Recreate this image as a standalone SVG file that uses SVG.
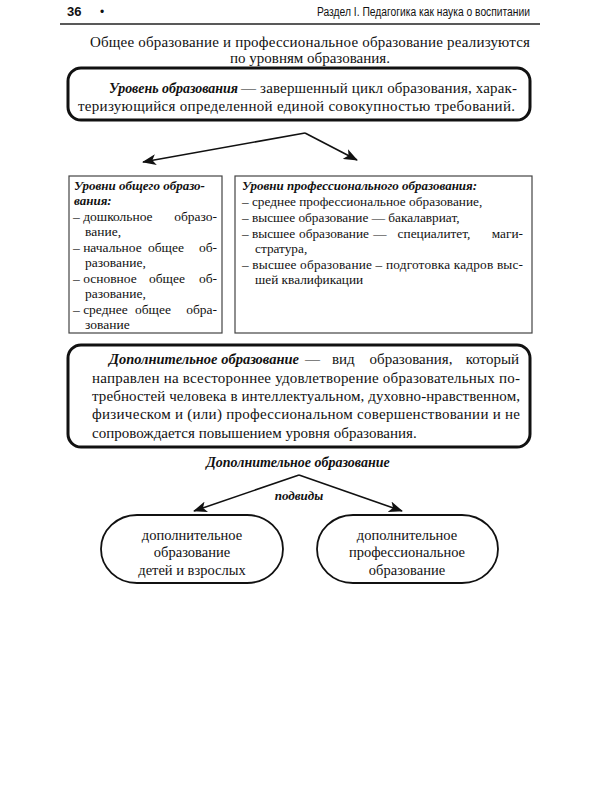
<svg xmlns="http://www.w3.org/2000/svg" width="600" height="800" viewBox="0 0 600 800">
<style>
.s{font-family:"Liberation Serif","DejaVu Serif","Times New Roman",serif;fill:#111}
.b{font-weight:bold;font-style:italic}
.h{font-family:"Liberation Sans Narrow","Liberation Sans",Arial,sans-serif;fill:#111}
.e{text-anchor:end}
.m{text-anchor:middle}
.thick{fill:#fff;stroke:#111;stroke-width:3}
.thin{fill:#fff;stroke:#444;stroke-width:1.2}
.pill{fill:#fff;stroke:#111;stroke-width:1.8}
.c{stroke:#111;stroke-width:1.6;fill:none}
</style>
<defs>
<marker id="ah" viewBox="0 0 14 11" refX="13" refY="5.5" markerWidth="14" markerHeight="11" markerUnits="userSpaceOnUse" orient="auto">
<path d="M0,0 L14,5.5 L0,11 L3.5,5.5 Z" fill="#111"/>
</marker>
</defs>
<rect width="600" height="800" fill="#fff"/>
<g id="header">
<text x="67" y="16" font-size="13" font-weight="bold" font-family="Liberation Sans, Arial, sans-serif" fill="#111">36</text>
<text class="h" x="100" y="16" font-size="12">•</text>
<text class="h" x="530" y="16" font-size="12.5" text-anchor="end" textLength="213" lengthAdjust="spacingAndGlyphs">Раздел I. Педагогика как наука о воспитании</text>
<line x1="60" y1="24" x2="540" y2="24" stroke="#222" stroke-width="1.5"/>
</g>
<g id="intro">
<text class="s" x="90" y="47" font-size="15" textLength="440" lengthAdjust="spacing">Общее образование и профессиональное образование реализуются</text>
<text class="s" x="310" y="63" font-size="15" text-anchor="middle">по уровням образования.</text>
</g>
<g id="level">
<rect class="thick" x="68" y="68" width="462" height="52" rx="13"/>
<g class="s" font-size="15">
<text x="109" y="93" class="b" textLength="129" lengthAdjust="spacingAndGlyphs">Уровень образования</text>
<text x="241" y="93" textLength="276" lengthAdjust="spacing">— завершенный цикл образования, харак-</text>
<text x="78" y="111" textLength="437" lengthAdjust="spacing">теризующийся определенной единой совокупностью требований.</text>
</g>
</g>
<g id="connectors">
<line class="c" x1="305" y1="133" x2="143" y2="162" marker-end="url(#ah)"/>
<line class="c" x1="305" y1="133" x2="357" y2="160" marker-end="url(#ah)"/>
<line class="c" x1="299" y1="475" x2="194" y2="511" marker-end="url(#ah)"/>
<line class="c" x1="299" y1="475" x2="402" y2="511" marker-end="url(#ah)"/>
</g>
<g id="general">
<rect class="thin" x="69" y="176" width="153" height="157"/>
<g class="s" font-size="13.5">
<text x="74" y="190" class="b" font-size="13">Уровни общего образо-</text>
<text x="74" y="205" class="b" font-size="13">вания:</text>
<text x="73" y="221">– дошкольное</text><text x="217" y="221" class="e">образо-</text>
<text x="85" y="236">вание,</text>
<text x="73" y="252">– начальное</text><text x="166" y="252" class="m">общее</text><text x="217" y="252" class="e">об-</text>
<text x="85" y="267">разование,</text>
<text x="73" y="283">– основное</text><text x="167" y="283" class="m">общее</text><text x="217" y="283" class="e">об-</text>
<text x="85" y="298">разование,</text>
<text x="73" y="314">– среднее</text><text x="153" y="314" class="m">общее</text><text x="217" y="314" class="e">обра-</text>
<text x="85" y="329">зование</text>
</g>
</g>
<g id="professional">
<rect class="thin" x="235" y="176" width="297" height="157"/>
<g class="s" font-size="13.3">
<text x="242" y="190" class="b" font-size="13">Уровни профессионального образования:</text>
<text x="242" y="206">– среднее профессиональное образование,</text>
<text x="242" y="222">– высшее образование — бакалавриат,</text>
<text x="242" y="238">– высшее</text><text x="334" y="238" class="m">образование</text><text x="380" y="238" class="m">—</text><text x="434" y="238" class="m">специалитет,</text><text x="523" y="238" class="e">маги-</text>
<text x="255" y="253">стратура,</text>
<text x="242" y="269" textLength="281" lengthAdjust="spacing">– высшее образование – подготовка кадров выс-</text>
<text x="255" y="284">шей квалификации</text>
</g>
</g>
<g id="additional">
<rect class="thick" x="68" y="345" width="462" height="102" rx="13"/>
<g class="s" font-size="15">
<text x="109" y="364" class="b" textLength="190" lengthAdjust="spacingAndGlyphs">Дополнительное образование</text>
<text x="305" y="364">—</text><text x="332" y="364">вид</text><text x="411" y="364" class="m">образования,</text><text x="519" y="364" class="e">который</text>
<text x="92" y="383" textLength="428" lengthAdjust="spacing">направлен на всестороннее удовлетворение образовательных по-</text>
<text x="92" y="401" textLength="428" lengthAdjust="spacing">требностей человека в интеллектуальном, духовно-нравственном,</text>
<text x="92" y="419" textLength="428" lengthAdjust="spacing">физическом и (или) профессиональном совершенствовании и не</text>
<text x="92" y="438">сопровождается повышением уровня образования.</text>
</g>
</g>
<g id="add-title">
<text class="s b" x="298" y="467" font-size="14" text-anchor="middle">Дополнительное образование</text>
</g>
<g id="subtypes-label">
<text class="s b" x="299" y="500" font-size="13" text-anchor="middle">подвиды</text>
</g>
<g id="children">
<rect class="pill" x="101" y="515" width="182" height="68" rx="36" ry="34"/>
<g class="s" font-size="14.5" text-anchor="middle">
<text x="192" y="540">дополнительное</text>
<text x="192" y="557">образование</text>
<text x="192" y="575">детей и взрослых</text>
</g>
</g>
<g id="prof-add">
<rect class="pill" x="317" y="515" width="181" height="68" rx="36" ry="34"/>
<g class="s" font-size="14.5" text-anchor="middle">
<text x="407" y="540">дополнительное</text>
<text x="407" y="557">профессиональное</text>
<text x="407" y="575">образование</text>
</g>
</g>
</svg>
